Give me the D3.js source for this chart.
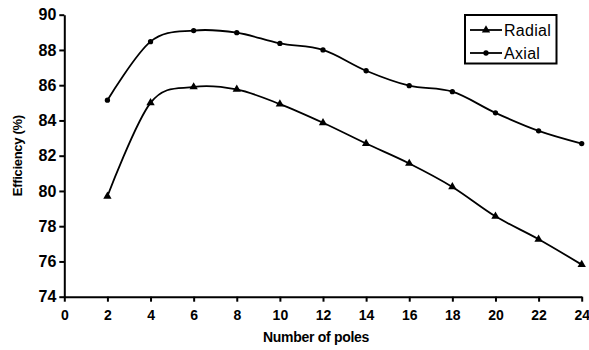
<!DOCTYPE html>
<html><head><meta charset="utf-8">
<script src="https://cdn.jsdelivr.net/npm/d3@7"></script>
<style>body{margin:0;background:#fff}svg{display:block}</style>
</head><body>
<script>
const poles = [2,4,6,8,10,12,14,16,18,20,22,24];
const radial = [79.7,85.0,85.9,85.76,84.93,83.87,82.69,81.56,80.23,78.56,77.26,75.82];
const axial = [85.15,88.47,89.1,88.98,88.37,88.0,86.82,85.97,85.63,84.43,83.41,82.69];
const xTicks = [0,2,4,6,8,10,12,14,16,18,20,22,24];
const yTicks = [74,76,78,80,82,84,86,88,90];
const seriesNames = ["Radial","Axial"];

const W=589,H=350;
const svg=d3.select("body").append("svg").attr("width",W).attr("height",H);
const x=d3.scaleLinear().domain([0,24]).range([64.3,581.7]);
const y=d3.scaleLinear().domain([74,90]).range([296.7,14.7]);
const font="'Liberation Sans', Arial, sans-serif";

const xa=svg.append("g").attr("transform",`translate(0,${y(74)})`)
  .call(d3.axisBottom(x).tickValues(xTicks).tickSize(5).tickSizeOuter(0).tickFormat(d3.format("d")));
const ya=svg.append("g").attr("transform",`translate(${x(0)},0)`)
  .call(d3.axisLeft(y).tickValues(yTicks).tickSize(5).tickSizeOuter(0).tickFormat(d3.format("d")));
[xa,ya].forEach(a=>{
  a.select(".domain").attr("stroke","#000").attr("stroke-width",2);
  a.selectAll(".tick line").attr("stroke","#000").attr("stroke-width",2);
  a.selectAll("text").attr("fill","#000").style("font-family",font).style("font-weight","bold").style("font-size","14px");
});
xa.selectAll("text").attr("dy","1.1em");
ya.selectAll("text").attr("x",-8).style("font-size","16px");

svg.append("text").attr("x",316).attr("y",342).attr("text-anchor","middle")
  .style("font-family",font).style("font-weight","bold").style("font-size","14px").style("letter-spacing","-0.3px")
  .text("Number of poles");
svg.append("text").attr("transform",`translate(22,${(y(74)+y(90))/2}) rotate(-90)`).attr("text-anchor","middle")
  .style("font-family",font).style("font-weight","bold").style("font-size","13px").style("letter-spacing","-0.3px")
  .text("Efficiency (%)");

const line=d3.line().x((d,i)=>x(poles[i])).y(d=>y(d)).curve(d3.curveCatmullRom.alpha(0));
const tri=d3.symbol().type(d3.symbolTriangle).size(30);
const dia=d3.symbol().type(d3.symbolCircle).size(22);

[[radial,tri],[axial,dia]].forEach(([data,sym])=>{
  svg.append("path").attr("d",line(data)).attr("fill","none").attr("stroke","#000").attr("stroke-width",1.8);
  svg.selectAll(null).data(data).enter().append("path")
    .attr("d",sym).attr("transform",(d,i)=>`translate(${x(poles[i])},${y(d)})`).attr("fill","#000");
});

// legend
const lg=svg.append("g");
lg.append("rect").attr("x",465).attr("y",15).attr("width",91.5).attr("height",48.5)
  .attr("fill","#fff").attr("stroke","#000").attr("stroke-width",2);
seriesNames.forEach((n,i)=>{
  const yy=30+i*23;
  lg.append("line").attr("x1",470).attr("x2",502).attr("y1",yy).attr("y2",yy).attr("stroke","#000").attr("stroke-width",1.8);
  lg.append("path").attr("d",i===0?tri:dia).attr("transform",`translate(486,${yy})`).attr("fill","#000");
  lg.append("text").attr("x",504).attr("y",yy+5.5).style("font-family",font).style("font-size","16px")
    .style("letter-spacing","0.3px").text(n);
});
</script>
</body></html>
